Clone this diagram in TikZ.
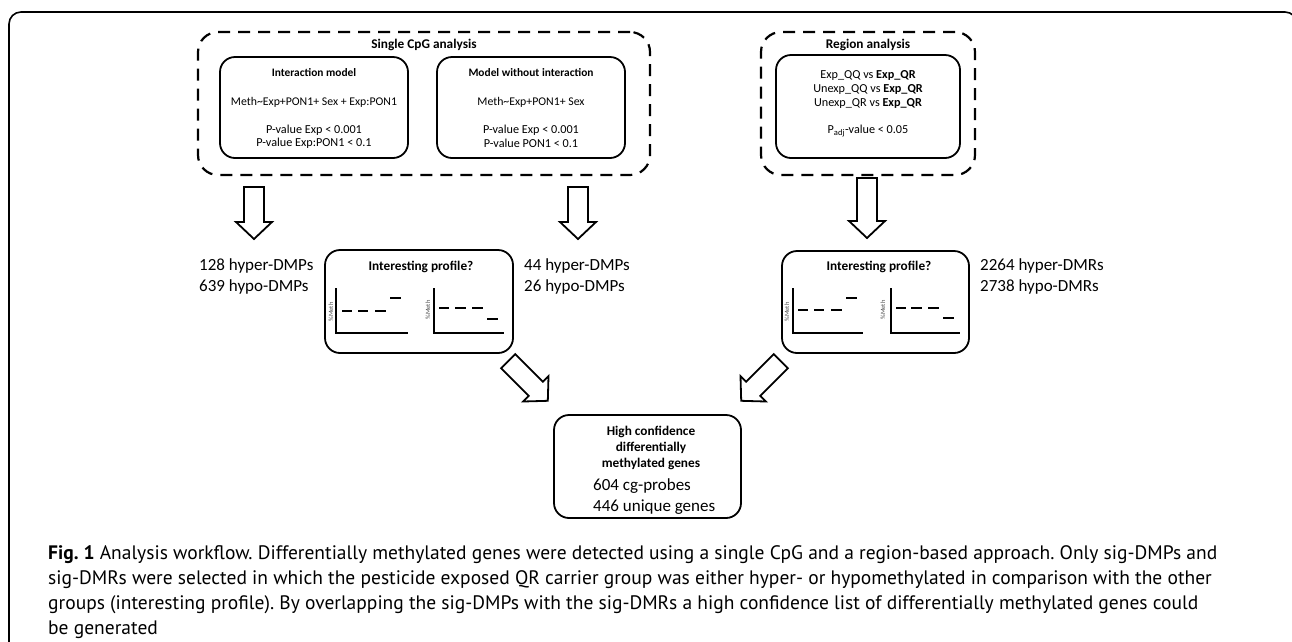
\documentclass[tikz,border=0pt]{standalone}
\usepackage{fontspec}
\setmainfont{Carlito}
\newfontfamily\capfont{PT Sans}
\newcommand{\fsz}[1]{\fontsize{#1}{#1}\selectfont}
\frenchspacing
\begin{document}
\begin{tikzpicture}[x=1pt,y=-1pt,
  box/.style={draw, line width=1.8pt, rounded corners=15pt, inner sep=0pt},
  dbox/.style={draw, line width=2.2pt, rounded corners=20pt, dash pattern=on 12pt off 8pt, inner sep=0pt},
  blk/.style={draw, line width=1.8pt, fill=white, line join=miter},
  head/.style={font=\fsz{13.3}\bfseries, inner sep=0pt},
  subhead/.style={font=\fsz{11.4}\bfseries, inner sep=0pt},
  body/.style={font=\fsz{12.2}, inner sep=0pt},
  count/.style={font=\fsz{17}, inner sep=0pt, anchor=west},
  axis/.style={line width=1.8pt},
  lvl/.style={line width=2.6pt},
  ylab/.style={font=\fsz{6.5}, rotate=90, inner sep=0pt, text=black!70},
  captext/.style={font=\capfont\fsz{19.5}, inner sep=0pt, anchor=base west}
]
\useasboundingbox (0,0) rectangle (1292,641);
\begin{scope}
\clip (0,0) rectangle (1292,641);
\draw[line width=1.6pt, rounded corners=12pt] (9,660) -- (9,12) -- (1297,12) -- (1297,660);
\end{scope}

% Single CpG analysis
\node[dbox, minimum width=452pt, minimum height=143pt] (cpg) at (424,103.5) {};
\node[head] (cpgt) at (424,45) {Single CpG analysis};
\node[box, minimum width=188pt, minimum height=101pt] (im) at (314,107.5) {};
\node[subhead] (imt) at (314,73) {Interaction model};
\node[body, font=\fsz{11.8}] (im1) at (314,102) {Meth\textasciitilde Exp+PON1+ Sex + Exp:PON1};
\node[body] (im2) at (314,130) {P-value Exp < 0.001};
\node[body] (im3) at (314,143) {P-value Exp:PON1 < 0.1};
\node[box, minimum width=188pt, minimum height=101pt] (mw) at (531,107.5) {};
\node[subhead] (mwt) at (531,73) {Model without interaction};
\node[body, font=\fsz{11.8}] (mw1) at (531,102) {Meth\textasciitilde Exp+PON1+ Sex};
\node[body] (mw2) at (531,130) {P-value Exp < 0.001};
\node[body] (mw3) at (531,143) {P-value PON1 < 0.1};

% Region analysis
\node[dbox, minimum width=214pt, minimum height=143pt] (reg) at (868,103.5) {};
\node[head] (regt) at (868,45) {Region analysis};
\node[box, minimum width=184pt, minimum height=103pt] (rb) at (868,106.5) {};
\node[body] (r1) at (868,75) {Exp\_QQ vs \textbf{Exp\_QR}};
\node[body] (r2) at (868,89) {Unexp\_QQ vs \textbf{Exp\_QR}};
\node[body] (r3) at (868,103) {Unexp\_QR vs \textbf{Exp\_QR}};
\node[body] (r4) at (868,131) {P\textsubscript{adj}-value < 0.05};

% block arrows (drawn shapes)
\foreach \cx/\cy/\len/\ang in {254/213/52/-90, 578/213/52/-90, 867/208/60/-90, 528/381/56/-45, 761/381/56/-135}{
  \begin{scope}[shift={(\cx,\cy)}, rotate=\ang]
    \pgfmathsetmacro{\hl}{\len/2}
    \pgfmathsetmacro{\hb}{\len/2-17}
    \draw[blk] (-\hl,-10) -- (\hb,-10) -- (\hb,-18) -- (\hl,0) -- (\hb,18) -- (\hb,10) -- (-\hl,10) -- cycle;
  \end{scope}
}

% counts
\node[count] (n1) at (199,266) {128 hyper-DMPs};
\node[count] (n2) at (199,287) {639 hypo-DMPs};
\node[count] (n3) at (524,266) {44 hyper-DMPs};
\node[count] (n4) at (524,287) {26 hypo-DMPs};
\node[count] (n5) at (980,266) {2264 hyper-DMRs};
\node[count] (n6) at (980,287) {2738 hypo-DMRs};

% profile boxes
\node[box, minimum width=188pt, minimum height=103pt] (p1) at (419,301.5) {};
\node[head] (p1t) at (421,267) {Interesting profile?};
\draw[axis] (336,288) -- (336,333) -- (408,333);
\draw[lvl] (342,311) -- (352,311) (358,311) -- (368,311) (375,311) -- (386,311) (390,298) -- (401,298);
\node[ylab] (l1) at (331,312) {\%Meth};
\draw[axis] (434,288) -- (434,333) -- (504,333);
\draw[lvl] (439,308) -- (449,308) (455,308) -- (466,308) (472,308) -- (483,308) (487,319) -- (498,319);
\node[ylab] (l2) at (428,310) {\%Meth};

\node[box, minimum width=187pt, minimum height=102pt] (p2) at (875.5,302) {};
\node[head] (p2t) at (879,267) {Interesting profile?};
\draw[axis] (793,288) -- (793,333) -- (863,333);
\draw[lvl] (798,310) -- (808,310) (814,310) -- (824,310) (831,310) -- (842,310) (846,298) -- (857,298);
\node[ylab] (l3) at (787,312) {\%Meth};
\draw[axis] (891,288) -- (891,333) -- (960,333);
\draw[lvl] (896,308) -- (906,308) (911,308) -- (922,308) (928,308) -- (939,308) (943,318) -- (954,318);
\node[ylab] (l4) at (883,310) {\%Meth};

% final box
\node[box, minimum width=187pt, minimum height=103pt] (hc) at (647.5,466.5) {};
\node[head] (h1) at (651,432) {High confidence};
\node[head] (h2) at (651,448) {differentially};
\node[head] (h3) at (651,464) {methylated genes};
\node[count] (h4) at (593,486) {604 cg-probes};
\node[count] (h5) at (593,507) {446 unique genes};

% caption
\node[captext] (c1) at (48,559) {\textbf{Fig. 1} Analysis workflow. Differentially methylated genes were detected using a single CpG and a region-based approach. Only sig-DMPs and};
\node[captext] (c2) at (48,584) {sig-DMRs were selected in which the pesticide exposed QR carrier group was either hyper- or hypomethylated in comparison with the other};
\node[captext] (c3) at (48,609) {groups (interesting profile). By overlapping the sig-DMPs with the sig-DMRs a high confidence list of differentially methylated genes could};
\node[captext] (c4) at (48,634) {be generated};
\end{tikzpicture}
\end{document}
